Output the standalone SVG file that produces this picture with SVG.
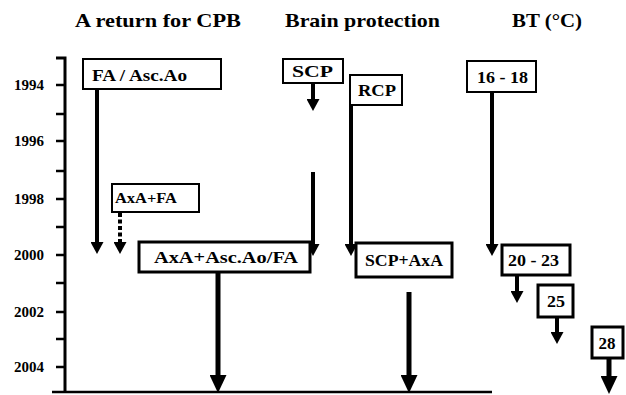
<svg xmlns="http://www.w3.org/2000/svg" width="626" height="395" viewBox="0 0 626 395" font-family="'Liberation Serif', 'Times New Roman', Times, serif">
<style>
text{font-family:'Liberation Serif','Times New Roman',Times,serif;font-weight:bold;fill:#000}
.title{font-size:19px}
.year{font-size:15px;text-anchor:end}
.lbl{font-size:17px;text-anchor:middle}
.box{fill:#fff;stroke:#000;stroke-width:2}
.thick{stroke-width:3}
.ax{stroke:#000;stroke-width:3;fill:none}
.tick{stroke:#000;stroke-width:2.5}
.c{stroke:#000;fill:none;stroke-width:4}
.cb{stroke:#000;fill:none;stroke-width:5}
.dot{stroke:#000;fill:none;stroke-width:4;stroke-dasharray:4 2.5}
</style>
<defs>
<marker id="ah" markerUnits="userSpaceOnUse" markerWidth="12" markerHeight="13" refX="0" refY="6.5" orient="auto" viewBox="0 0 12 13">
<path d="M0,0 L12,6.5 L0,13 z" fill="#000"/>
</marker>
<marker id="ahb" markerUnits="userSpaceOnUse" markerWidth="18" markerHeight="17" refX="0" refY="8.5" orient="auto" viewBox="0 0 18 17">
<path d="M0,0 L18,8.5 L0,17 z" fill="#000"/>
</marker>
</defs>
<rect width="626" height="395" fill="#fff"/>
<g id="titles">
<text class="title" x="75" y="27" textLength="166" lengthAdjust="spacingAndGlyphs">A return for CPB</text>
<text class="title" x="285" y="27" textLength="155" lengthAdjust="spacingAndGlyphs">Brain protection</text>
<text class="title" x="512" y="27" textLength="70" lengthAdjust="spacingAndGlyphs">BT (°C)</text>
</g>
<g id="axis">
<path class="ax" d="M56,58 H65 V392"/>
<path class="tick" d="M52,392 H492"/>
<path class="tick" d="M56,85 H65 M56,114 H65 M56,141 H65 M56,171 H65 M56,199 H65 M56,227 H65 M56,255 H65 M56,283 H65 M56,312 H65 M56,339 H65 M56,367 H65"/>
<text class="year" x="44" y="90">1994</text>
<text class="year" x="44" y="146">1996</text>
<text class="year" x="44" y="204">1998</text>
<text class="year" x="44" y="260">2000</text>
<text class="year" x="44" y="317">2002</text>
<text class="year" x="44" y="372">2004</text>
</g>
<g id="connectors">
<line class="c" x1="97" y1="89" x2="97" y2="242" marker-end="url(#ah)"/>
<line class="dot" x1="120" y1="213" x2="120" y2="242" marker-end="url(#ah)"/>
<line class="cb" x1="218" y1="272" x2="218" y2="375" marker-end="url(#ahb)"/>
<line class="c" x1="313" y1="83" x2="313" y2="99" marker-end="url(#ah)"/>
<line class="c" x1="313" y1="172" x2="313" y2="244" marker-end="url(#ah)"/>
<line class="c" x1="351" y1="104" x2="351" y2="244" marker-end="url(#ah)"/>
<line class="cb" x1="409" y1="292" x2="409" y2="375" marker-end="url(#ahb)"/>
<line class="c" x1="492" y1="92" x2="492" y2="244" marker-end="url(#ah)"/>
<line class="c" x1="517" y1="275" x2="517" y2="291" marker-end="url(#ah)"/>
<line class="c" x1="557" y1="317" x2="557" y2="332" marker-end="url(#ah)"/>
<line class="cb" x1="609" y1="358" x2="609" y2="376" marker-end="url(#ahb)"/>
</g>
<g id="n-fa">
<rect class="box" x="83" y="59" width="138" height="30"/>
<text class="lbl" x="139.5" y="80.5" textLength="95" lengthAdjust="spacingAndGlyphs">FA / Asc.Ao</text>
</g>
<g id="n-axafa">
<rect class="box" x="112" y="184" width="87" height="28"/>
<text class="lbl" x="146" y="203" style="font-size:15px" textLength="62" lengthAdjust="spacingAndGlyphs">AxA+FA</text>
</g>
<g id="n-axaasc">
<rect class="box thick" x="139" y="242" width="171" height="30"/>
<text class="lbl" x="226" y="263" textLength="144" lengthAdjust="spacingAndGlyphs">AxA+Asc.Ao/FA</text>
</g>
<g id="n-scp">
<rect class="box" x="283" y="59" width="60" height="24"/>
<text class="lbl" x="312.5" y="77" textLength="41" lengthAdjust="spacingAndGlyphs">SCP</text>
</g>
<g id="n-rcp">
<rect class="box" x="350" y="75" width="52" height="30"/>
<text class="lbl" x="377" y="96" textLength="38" lengthAdjust="spacingAndGlyphs">RCP</text>
</g>
<g id="n-scpaxa">
<rect class="box thick" x="356" y="243" width="96" height="34"/>
<text class="lbl" x="404" y="266" textLength="78" lengthAdjust="spacingAndGlyphs">SCP+AxA</text>
</g>
<g id="n-1618">
<rect class="box" x="467" y="61" width="69" height="31"/>
<text class="lbl" x="502.5" y="83" textLength="51" lengthAdjust="spacingAndGlyphs">16 - 18</text>
</g>
<g id="n-2023">
<rect class="box thick" x="502" y="245" width="68" height="30"/>
<text class="lbl" x="533.5" y="266" textLength="51" lengthAdjust="spacingAndGlyphs">20 - 23</text>
</g>
<g id="n-25">
<rect class="box thick" x="538" y="285" width="35" height="32"/>
<text class="lbl" x="556" y="307" textLength="18" lengthAdjust="spacingAndGlyphs">25</text>
</g>
<g id="n-28">
<rect class="box thick" x="592" y="327" width="31" height="31"/>
<text class="lbl" x="607" y="349" textLength="17" lengthAdjust="spacingAndGlyphs">28</text>
</g>
</svg>
